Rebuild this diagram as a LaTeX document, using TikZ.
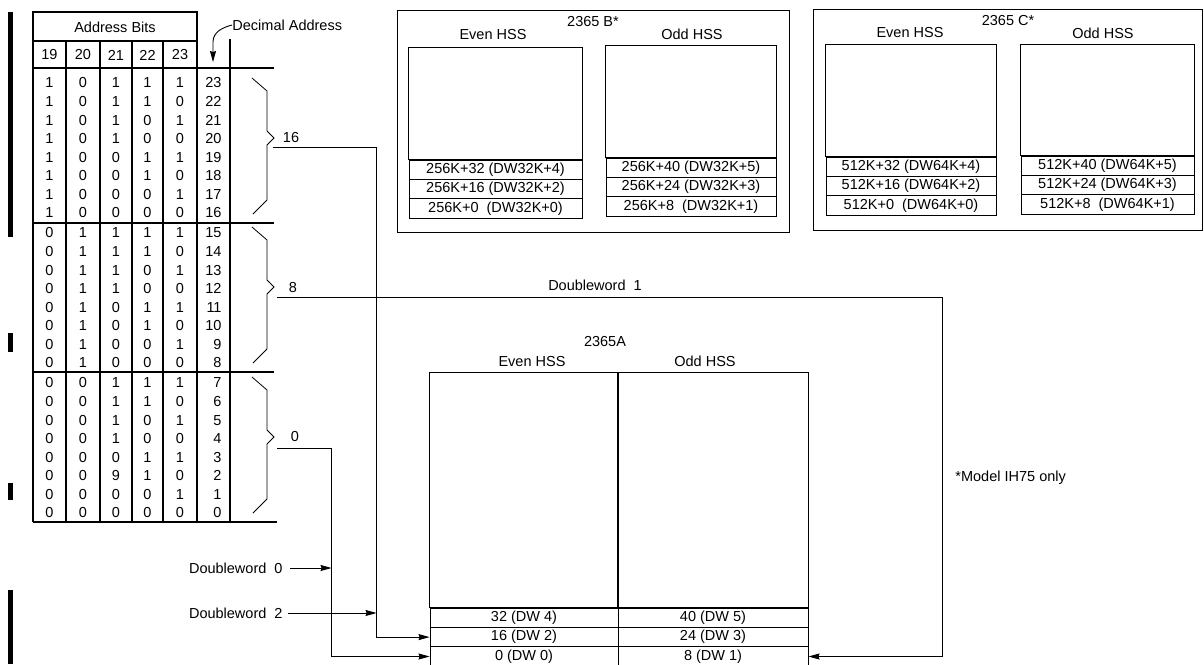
\documentclass[tikz,border=0pt]{standalone}
\usepackage{fontspec}
\setmainfont{Liberation Sans}
\usepackage{tikz}
\usetikzlibrary{arrows.meta}

\begin{document}
\begin{tikzpicture}[x=1pt,y=-1pt,>={Stealth[length=11pt,width=6pt,inset=1pt]},line width=0.9pt,
  every node/.style={font=\fontsize{14.5}{16}\selectfont,inner sep=0pt},
  cell/.style={draw,minimum height=19.4pt,inner sep=0pt},
  grid/.style={line width=1.2pt}]
\useasboundingbox (0,0) rectangle (1204,664);
\fill (8,12) rectangle (13,237);
\fill (8,333) rectangle (13,352);
\fill (8,483) rectangle (13,500);
\fill (8,590) rectangle (13,664);

\draw[grid] (33,522) -- (33,12) -- (197,12) -- (197,522);
\draw[grid] (33,41) -- (197,41);
\foreach \x in {66,100,132,163} \draw[grid] (\x,41) -- (\x,522);
\draw[grid] (230,39) -- (230,522);
\foreach \y in {68,223,372} \draw[grid] (33,\y) -- (274,\y);
\draw[grid] (33,522) -- (277,522);
\node (hdr) at (115,27) {Address Bits};
\foreach \h/\x in {19/49.5,20/83,21/116,22/147.5,23/180} \node (h\h) at (\x,55) {\h};
\foreach \n/\xa/\xb/\xc/\xd/\xe [count=\i from 0] in {23/1/0/1/1/1,22/1/0/1/1/0,21/1/0/1/0/1,20/1/0/1/0/0,
  19/1/0/0/1/1,18/1/0/0/1/0,17/1/0/0/0/1,16/1/0/0/0/0,15/0/1/1/1/1,14/0/1/1/1/0,13/0/1/1/0/1,12/0/1/1/0/0,
  11/0/1/0/1/1,10/0/1/0/1/0,9/0/1/0/0/1,8/0/1/0/0/0,7/0/0/1/1/1,6/0/0/1/1/0,5/0/0/1/0/1,4/0/0/1/0/0,
  3/0/0/0/1/1,2/0/0/9/1/0,1/0/0/0/0/1,0/0/0/0/0/0}{
  \pgfmathsetmacro\yy{83+150*int(\i/8)+18.57*mod(\i,8)}
  \node (b\n-19) at (49.5,\yy) {\xa};
  \node (b\n-20) at (83,\yy) {\xb};
  \node (b\n-21) at (116,\yy) {\xc};
  \node (b\n-22) at (147.5,\yy) {\xd};
  \node (b\n-23) at (180,\yy) {\xe};
  \node[anchor=east] (d\n) at (222,\yy) {\n};
}
\node[anchor=west] (declab) at (232,25) {Decimal Address};
\coordinate (dectip) at (213,62);
\draw[->] (declab.west) to[out=195,in=90] (213,42) -- (dectip);

\foreach \c in {138,287,437}
  \draw[line width=0.8pt] (252,\c-60) -- (267,\c-47) -- (267,\c-7) -- (274,\c) -- (267,\c+7) -- (267,\c+62) -- (253,\c+76);
\node (n16) at (291,138) {16};
\node (n8) at (293,288) {8};
\node (n0) at (295,437) {0};
\coordinate (s16) at (273,147);
\coordinate (s8) at (277,297);
\coordinate (s0) at (277,448);

\draw (397,10) rectangle (789,232);
\node (tb) at (593,22) {2365 B*};
\node (tbe) at (493,35) {Even HSS};
\node (tbo) at (692,34) {Odd HSS};
\node[cell,minimum width=173pt] (b32) at (495.5,169.7) {256K+32 (DW32K+4)};
\node[cell,minimum width=173pt] (b16) at (495.5,189.1) {256K+16 (DW32K+2)};
\node[cell,minimum width=173pt] (b0) at (495.5,208.5) {256K+0\ \ (DW32K+0)};
\draw (b32.north west) rectangle ([yshift=112pt]b32.north east);
\node[cell,minimum width=170pt] (b40) at (691,167.7) {256K+40 (DW32K+5)};
\node[cell,minimum width=170pt] (b24) at (691,187.1) {256K+24 (DW32K+3)};
\node[cell,minimum width=170pt] (b8) at (691,206.5) {256K+8\ \ (DW32K+1)};
\draw (b40.north west) rectangle ([yshift=112pt]b40.north east);

\draw (813,9) rectangle (1202,230);
\node (tc) at (1008,21) {2365 C*};
\node (tce) at (910,33) {Even HSS};
\node (tco) at (1103,33) {Odd HSS};
\node[cell,minimum width=170pt] (c32) at (911,166.7) {512K+32 (DW64K+4)};
\node[cell,minimum width=170pt] (c16) at (911,186.1) {512K+16 (DW64K+2)};
\node[cell,minimum width=170pt] (c0) at (911,205.5) {512K+0\ \ (DW64K+0)};
\draw (c32.north west) rectangle ([yshift=112pt]c32.north east);
\node[cell,minimum width=173pt] (c40) at (1107.5,165.7) {512K+40 (DW64K+5)};
\node[cell,minimum width=173pt] (c24) at (1107.5,185.1) {512K+24 (DW64K+3)};
\node[cell,minimum width=173pt] (c8) at (1107.5,204.5) {512K+8\ \ (DW64K+1)};
\draw (c40.north west) rectangle ([yshift=111pt]c40.north east);

\node (ta) at (605,342) {2365A};
\node (tae) at (532,362) {Even HSS};
\node (tao) at (705,361) {Odd HSS};
\node[cell,minimum width=188pt] (a32) at (524,617.7) {32 (DW 4)};
\node[cell,minimum width=188pt] (a16) at (524,637.1) {16 (DW 2)};
\node[cell,minimum width=188pt] (a0) at (524,656.5) {0 (DW 0)};
\draw (a32.north west) rectangle ([yshift=235pt]a32.north east);
\node[cell,minimum width=190pt] (a40) at (713,617.7) {40 (DW 5)};
\node[cell,minimum width=190pt] (a24) at (713,637.1) {24 (DW 3)};
\node[cell,minimum width=190pt] (a8) at (713,656.5) {8 (DW 1)};
\draw (a40.north west) rectangle ([yshift=235pt]a40.north east);

\coordinate (v16) at ([xshift=-53pt]a16.west);
\coordinate (v0) at ([xshift=-98pt]a0.west);
\draw[->] (s16) -| (v16) -- (a16.west);
\draw[->] (s8) -| ([xshift=134pt]a8.east) -- (a8.east);
\draw[->] (s0) -| (v0) -- (a0.west);
\node (dwl1) at (595,285) {Doubleword\ \ 1};
\node[anchor=east] (dwl0) at (283,568) {Doubleword\ \ 0};
\node[anchor=east] (dwl2) at (283,613) {Doubleword\ \ 2};
\draw[->] ([xshift=7pt]dwl0.east) -- (dwl0.east -| v0);
\draw[->] ([xshift=5pt]dwl2.east) -- (dwl2.east -| v16);
\node[anchor=west] (note) at (955,478) {*Model IH75 only};
\end{tikzpicture}
\end{document}
